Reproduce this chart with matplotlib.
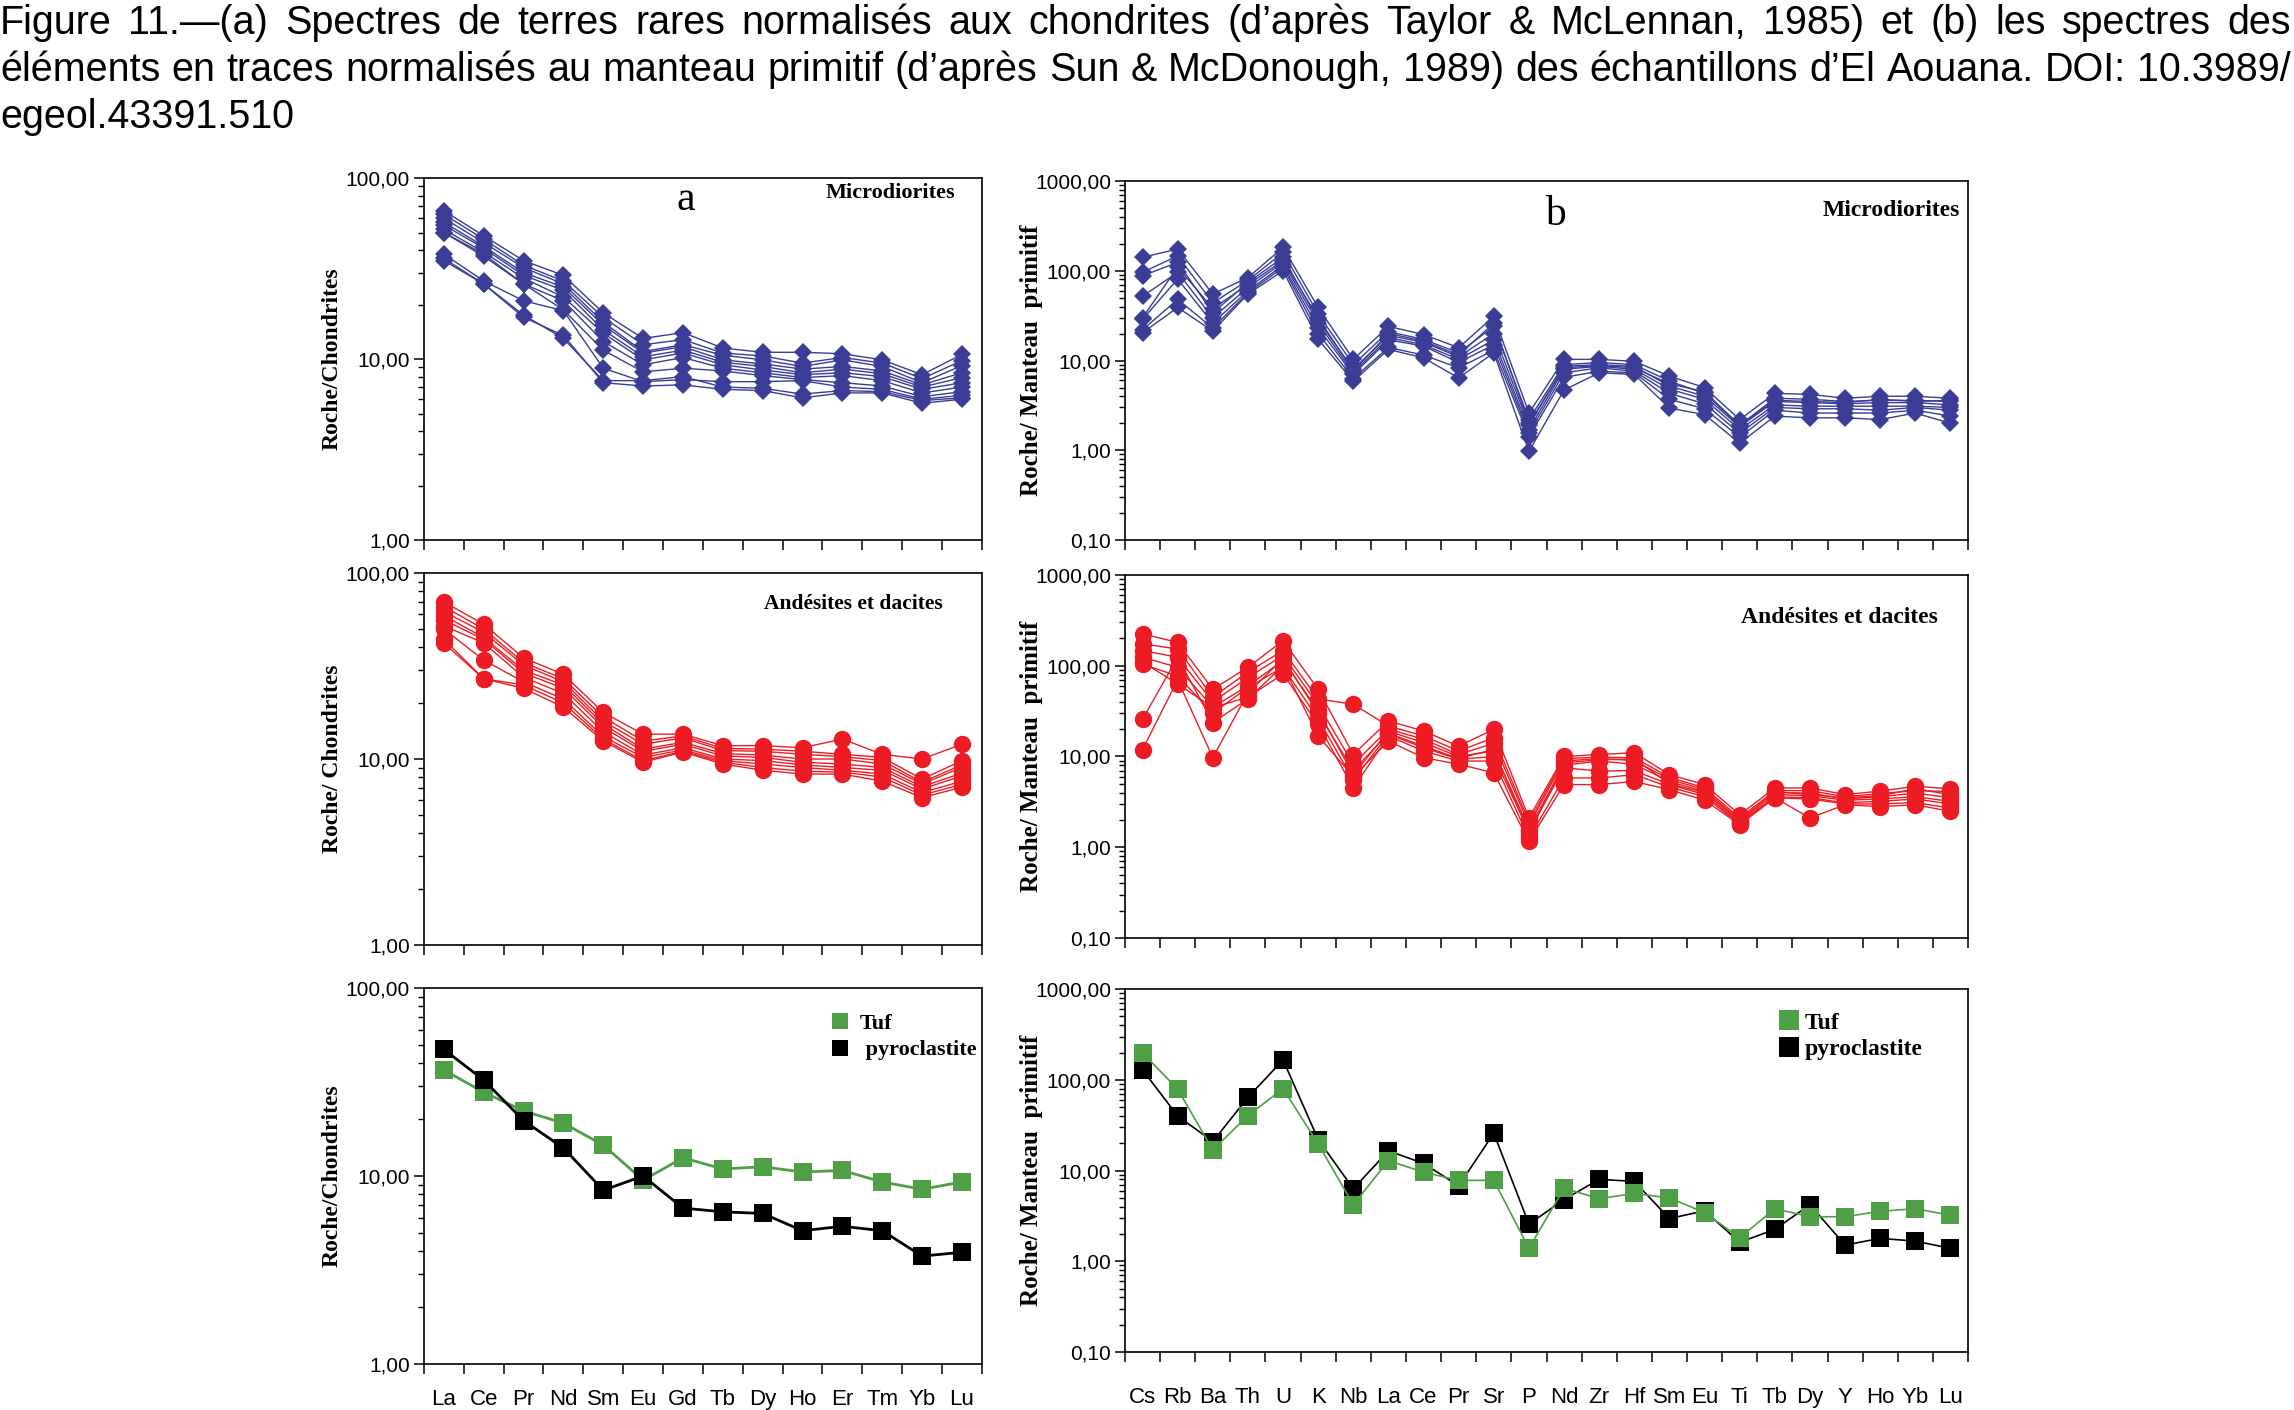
import matplotlib
matplotlib.use("Agg")
import matplotlib.pyplot as plt
from matplotlib import font_manager
from matplotlib.font_manager import FontProperties
from matplotlib.ticker import FixedLocator, FixedFormatter, FuncFormatter, LogLocator, NullFormatter
from matplotlib.lines import Line2D

SANS_N = ['Liberation Sans Narrow', 'Liberation Sans', 'DejaVu Sans']
SERIF = ['Liberation Serif', 'DejaVu Serif']
plt.rcParams['font.family'] = SANS_N

BLUE = '#3A3C96'
RED = '#ED1C24'
GREEN = '#4E9F45'
BLACK = '#000000'

# ---------- categories ----------
ree = ['La', 'Ce', 'Pr', 'Nd', 'Sm', 'Eu', 'Gd', 'Tb', 'Dy', 'Ho', 'Er', 'Tm', 'Yb', 'Lu']
trace = ['Cs', 'Rb', 'Ba', 'Th', 'U', 'K', 'Nb', 'La', 'Ce', 'Pr', 'Sr', 'P',
         'Nd', 'Zr', 'Hf', 'Sm', 'Eu', 'Ti', 'Tb', 'Dy', 'Y', 'Ho', 'Yb', 'Lu']

# ---------- (a) terres rares / chondrites ----------
micro_ree = [
    [66, 48, 35, 29, 18, 13, 14, 11.5, 10.9, 10.9, 10.7, 9.9, 8.2, 10.6],
    [63, 46, 33, 27, 17, 12, 12.8, 10.8, 10.4, 9.5, 10.2, 9.5, 7.8, 9.8],
    [60, 44, 32, 26, 16, 11, 12, 10.5, 9.9, 9.1, 9.9, 9.1, 7.4, 9.2],
    [57, 42, 30, 25, 15.4, 10.8, 11.7, 9.9, 9.4, 8.8, 9.1, 8.6, 7.2, 8.4],
    [55, 41, 29, 24, 14.5, 10.3, 11.2, 9.6, 9.1, 8.4, 8.8, 8.3, 7.0, 7.9],
    [52, 39, 28, 22, 13.9, 9.9, 10.8, 9.3, 8.7, 8.2, 8.4, 8.0, 6.8, 7.4],
    [50, 38, 26, 21, 12.5, 9.3, 10.2, 8.9, 8.4, 7.9, 8.1, 7.6, 6.5, 7.0],
    [50, 37, 26, 18.7, 11.2, 8.5, 8.9, 8.6, 8.1, 7.7, 7.4, 7.1, 6.2, 6.6],
    [38, 27, 21, 18.5, 8.9, 7.5, 7.7, 7.5, 7.5, 7.6, 7.0, 6.8, 6.0, 6.3],
    [36, 26, 17, 13.5, 7.4, 7.1, 7.2, 6.8, 6.7, 6.1, 6.5, 6.5, 5.7, 6.0],
    [35, 26, 17.5, 13.0, 7.6, 7.6, 8.0, 7.0, 6.9, 6.4, 6.7, 6.6, 5.9, 6.1],
]

ande_ree = [
    [70, 53, 35, 28.5, 17.8, 13.6, 13.6, 11.8, 11.8, 11.5, 12.8, 10.6, 10.0, 12.0],
    [66, 50, 33, 27, 16.8, 12.5, 13.3, 11.4, 11.3, 11.0, 10.6, 10.2, 7.8, 9.8],
    [62, 48, 32, 26, 16, 12, 13, 11.1, 11.0, 10.6, 10.3, 9.8, 7.5, 9.3],
    [59, 45, 30, 25, 15.4, 11.3, 12.3, 10.7, 10.5, 10.0, 10.0, 9.4, 7.35, 9.0],
    [56, 44, 29, 24, 14.8, 11.0, 12.0, 10.4, 10.2, 9.6, 9.4, 9.0, 7.1, 8.4],
    [52, 42, 27.5, 22.5, 14, 10.5, 11.5, 10.0, 9.8, 9.3, 9.0, 8.7, 6.9, 8.1],
    [50, 34, 26, 21, 13.2, 10.2, 11.2, 9.8, 9.4, 9.0, 8.7, 8.3, 6.6, 7.6],
    [44, 27, 25, 20, 12.8, 9.8, 11.0, 9.6, 9.0, 8.6, 8.5, 8.0, 6.4, 7.3],
    [42, 27, 24, 19, 12.5, 9.6, 10.9, 9.4, 8.7, 8.3, 8.3, 7.6, 6.2, 7.05],
]

tuf_ree = [36.6, 27.9, 22.2, 19.1, 14.6, 9.5, 12.5, 10.9, 11.2, 10.5, 10.7, 9.3, 8.5, 9.3]
pyro_ree = [47.1, 32.4, 19.7, 14.1, 8.4, 10.0, 6.75, 6.45, 6.32, 5.12, 5.4, 5.12, 3.75, 3.93]

# ---------- (b) traces / manteau primitif ----------
micro_trace = [
    [141, 175, 55, 84, 182, 39, 10.3, 24, 19.5, 13.9, 31, 2.6, 10.3, 10.3, 9.8, 6.7, 5.0, 2.2, 4.3, 4.2, 3.8, 4.0, 4.0, 3.8],
    [96, 147, 44, 78, 160, 33, 9.0, 21, 17.2, 12.2, 24, 2.2, 9.0, 9.5, 9.0, 5.9, 4.3, 1.9, 3.8, 3.7, 3.5, 3.6, 3.6, 3.5],
    [88, 124, 34, 74, 141, 28, 8.0, 19, 16, 11, 20, 1.9, 8.6, 9.0, 8.6, 5.2, 4.0, 1.84, 3.5, 3.4, 3.3, 3.4, 3.4, 3.2],
    [52, 96, 30, 65, 124, 26, 7.3, 18, 15, 10.3, 17, 1.7, 8.0, 8.6, 8.0, 4.8, 3.7, 1.7, 3.2, 3.1, 3.1, 3.1, 3.1, 3.0],
    [28.8, 81, 26, 60, 115, 23, 7.0, 17, 14.5, 9.5, 15, 1.55, 7.3, 8.3, 7.6, 4.3, 3.3, 1.55, 3.0, 2.9, 2.9, 2.8, 3.0, 2.8],
    [22, 48, 23, 57, 109, 20, 6.3, 14, 11.5, 8.3, 13, 1.42, 6.5, 7.6, 7.3, 3.7, 2.9, 1.4, 2.8, 2.6, 2.6, 2.6, 2.8, 2.4],
    [20.4, 39, 21.3, 55, 100, 17.2, 5.9, 13.3, 10.7, 6.4, 12.2, 0.97, 4.7, 7.3, 7.0, 2.95, 2.5, 1.2, 2.4, 2.3, 2.3, 2.2, 2.6, 2.0],
    [30, 110, 38, 70, 130, 30, 7.6, 20, 16.5, 11.5, 26, 2.0, 8.3, 8.8, 8.3, 5.5, 4.5, 1.9, 3.6, 3.5, 3.4, 3.7, 3.5, 3.6],
]

ande_trace = [
    [224, 181, 55, 96, 189, 55, 10.5, 24.6, 19.1, 13.0, 19.9, 2.1, 10.0, 10.5, 11.0, 6.3, 4.9, 2.28, 4.5, 4.5, 3.8, 4.15, 4.7, 4.4],
    [174, 153, 45, 85, 147, 43, 37.6, 21.7, 16.8, 11.5, 16.1, 1.9, 9.5, 9.8, 9.7, 5.9, 4.5, 2.1, 4.2, 4.2, 3.6, 3.9, 4.2, 4.1],
    [147, 124, 40, 74, 130, 37, 8.2, 20, 15.5, 10.5, 14, 1.77, 8.9, 9.5, 9.0, 5.6, 4.3, 2.0, 4.0, 3.95, 3.4, 3.6, 3.95, 3.5],
    [124, 96, 35, 60, 114, 32, 6.3, 19, 14.2, 10.0, 11.5, 1.6, 8.0, 8.9, 8.2, 5.3, 4.1, 1.9, 3.8, 3.7, 3.3, 3.4, 3.6, 3.2],
    [104, 77, 30, 57.5, 96, 26, 5.5, 17.5, 12.5, 9.3, 10, 1.49, 7.5, 6.9, 7.0, 4.9, 3.8, 1.85, 3.6, 3.5, 3.1, 3.2, 3.4, 3.0],
    [110, 63, 34.6, 45, 81, 22.6, 4.5, 16.8, 11.5, 8.9, 8.9, 1.26, 5.8, 5.8, 6.3, 4.6, 3.6, 1.8, 3.5, 3.4, 3.0, 3.0, 3.1, 2.7],
    [25.7, 124, 23.6, 43, 100, 16.8, 6.0, 14.8, 9.7, 8.2, 6.6, 1.16, 4.9, 4.9, 5.3, 4.3, 3.3, 1.77, 3.5, 2.1, 2.94, 2.8, 2.94, 2.48],
    [11.9, 70, 9.7, 50, 120, 30, 7.0, 18, 13, 9.5, 12, 1.4, 8.5, 9.2, 9.4, 5.0, 4.0, 1.95, 4.1, 3.8, 3.5, 3.7, 4.4, 3.8],
]

tuf_trace = [198, 79, 16.9, 40.3, 80, 19.7, 4.2, 12.9, 9.6, 7.8, 7.8, 1.39, 6.4, 4.9, 5.6, 5.0,
             3.45, 1.82, 3.8, 3.1, 3.1, 3.56, 3.8, 3.22]
pyro_trace = [129, 40, 20.9, 64, 166, 22, 6.3, 16.5, 12, 6.8, 25.8, 2.57, 4.8, 8.0, 7.6, 2.96,
              3.6, 1.62, 2.25, 4.2, 1.51, 1.79, 1.67, 1.39]

caption = [
    "Figure 11.\u2014(a) Spectres de terres rares normalisés aux chondrites (d\u2019après Taylor & McLennan, 1985) et (b) les spectres des",
    "éléments en traces normalisés au manteau primitif (d\u2019après Sun & McDonough, 1989) des échantillons d\u2019El Aouana. DOI: 10.3989/",
    "egeol.43391.510",
]


def narrow_font():
    """look for a narrow sans face (caption is set in Arial Narrow)"""
    for f in font_manager.fontManager.ttflist:
        if f.name == 'Liberation Sans Narrow' and f.weight in (400, 'normal') and f.style == 'normal':
            return FontProperties(fname=f.fname)
    for f in font_manager.fontManager.ttflist:
        if f.name.startswith('Noto Sans') and 'CJK' not in f.name and f.style == 'normal' \
                and f.weight in (400, 'normal') and f.stretch in ('condensed', 'semi-condensed', 'extra-condensed'):
            return FontProperties(fname=f.fname)
    return FontProperties(family='Liberation Sans')


CAP = narrow_font()


def decimal_comma(v, pos):
    return f"{v:.2f}".replace('.', ',')


def setup_axes(ax, cats, ymin, ymax, ylabel, label_x, show_x, lab_size, xpad):
    n = len(cats)
    ax.set_yscale('log')
    ax.set_ylim(ymin, ymax)
    ax.set_xlim(-0.5, n - 0.5)
    # ticks between categories, labels centred (Excel style)
    ax.xaxis.set_major_locator(FixedLocator([i - 0.5 for i in range(n + 1)]))
    ax.xaxis.set_major_formatter(NullFormatter())
    ax.xaxis.set_minor_locator(FixedLocator(list(range(n))))
    if show_x:
        ax.xaxis.set_minor_formatter(FixedFormatter(cats))
    else:
        ax.xaxis.set_minor_formatter(NullFormatter())
    ax.tick_params(axis='x', which='major', direction='out', length=7, width=1.1)
    ax.tick_params(axis='x', which='minor', length=0, pad=xpad, labelsize=16)
    ax.yaxis.set_major_locator(LogLocator(base=10))
    ax.yaxis.set_minor_locator(LogLocator(base=10, subs=range(2, 10)))
    ax.yaxis.set_major_formatter(FuncFormatter(decimal_comma))
    ax.yaxis.set_minor_formatter(NullFormatter())
    ax.tick_params(axis='y', which='major', direction='out', length=7, width=1.1, labelsize=15, pad=3)
    ax.tick_params(axis='y', which='minor', direction='out', length=4, width=1.0)
    for s in ax.spines.values():
        s.set_linewidth(1.2)
    ax.set_ylabel(ylabel, family=SERIF, fontweight='bold', fontsize=lab_size)
    ax.yaxis.set_label_coords(label_x, 0.5)


def draw_series(ax, rows, color, marker, ms, lw=1.0):
    for row in rows:
        ax.plot(range(len(row)), row, color=color, lw=lw, marker=marker, ms=ms,
                markeredgewidth=0)


def justify(fig, text, y_px, size):
    """place words so that the line fills the full figure width"""
    W, H = fig.get_size_inches() * fig.dpi
    words = text.split(' ')
    r = fig.canvas.get_renderer()
    objs = [fig.text(0, 1 - y_px / H, w, fontproperties=CAP, fontsize=size,
                     va='baseline', ha='left') for w in words]
    widths = [o.get_window_extent(r).width for o in objs]
    gap = (W - 3 - sum(widths)) / (len(words) - 1)
    x = 0
    for o, w in zip(objs, widths):
        o.set_x(x / W)
        x += w + gap


fig = plt.figure(figsize=(22.94, 14.10), dpi=100)

# axes rectangles (figure fraction)
ax_a1 = fig.add_axes([0.1848, 0.617, 0.2432, 0.2567])
ax_a2 = fig.add_axes([0.1848, 0.3298, 0.2432, 0.2638])
ax_a3 = fig.add_axes([0.1848, 0.0326, 0.2432, 0.2667])
ax_b1 = fig.add_axes([0.4904, 0.617, 0.3675, 0.2546])
ax_b2 = fig.add_axes([0.4904, 0.3348, 0.3675, 0.2574])
ax_b3 = fig.add_axes([0.4904, 0.0411, 0.3675, 0.2574])

setup_axes(ax_a1, ree, 1, 100, 'Roche/Chondrites', -0.145, False, 17, 18)
setup_axes(ax_a2, ree, 1, 100, 'Roche/ Chondrites', -0.145, False, 17, 18)
setup_axes(ax_a3, ree, 1, 100, 'Roche/Chondrites', -0.145, True, 17, 18)
setup_axes(ax_b1, trace, 0.1, 1000, 'Roche/ Manteau  primitif', -0.097, False, 18, 25)
setup_axes(ax_b2, trace, 0.1, 1000, 'Roche/ Manteau  primitif', -0.097, False, 18, 25)
setup_axes(ax_b3, trace, 0.1, 1000, 'Roche/ Manteau  primitif', -0.097, True, 18, 25)

# --- microdiorites
draw_series(ax_a1, micro_ree, BLUE, 'D', 9.5)
draw_series(ax_b1, micro_trace, BLUE, 'D', 9.5)
ax_a1.text(0.47, 0.94, 'a', transform=ax_a1.transAxes, family=SERIF, fontsize=30,
           ha='center', va='center')
ax_a1.text(0.953, 0.96, 'Microdiorites', transform=ax_a1.transAxes, family=SERIF,
           fontweight='bold', fontsize=16, ha='right', va='center')
ax_b1.text(0.51, 0.905, 'b', transform=ax_b1.transAxes, family=SERIF, fontsize=30,
           ha='center', va='center')
ax_b1.text(0.991, 0.918, 'Microdiorites', transform=ax_b1.transAxes, family=SERIF,
           fontweight='bold', fontsize=17, ha='right', va='center')

# --- andesites et dacites
draw_series(ax_a2, ande_ree, RED, 'o', 12.5)
draw_series(ax_b2, ande_trace, RED, 'o', 12.5)
ax_a2.text(0.93, 0.917, 'Andésites et dacites', transform=ax_a2.transAxes, family=SERIF,
           fontweight='bold', fontsize=15.5, ha='right', va='center')
ax_b2.text(0.964, 0.883, 'Andésites et dacites', transform=ax_b2.transAxes, family=SERIF,
           fontweight='bold', fontsize=17, ha='right', va='center')

# --- tuf / pyroclastite
ax_a3.plot(range(len(ree)), tuf_ree, color=GREEN, lw=2, marker='s', ms=13, mew=0, zorder=2)
ax_a3.plot(range(len(ree)), pyro_ree, color=BLACK, lw=2, marker='s', ms=13, mew=0, zorder=3)
ax_b3.plot(range(len(trace)), pyro_trace, color=BLACK, lw=1.2, marker='s', ms=13.5, mew=0, zorder=2)
ax_b3.plot(range(len(trace)), tuf_trace, color=GREEN, lw=1.2, marker='s', ms=13.5, mew=0, zorder=3)

handles_a = [Line2D([], [], color=GREEN, marker='s', ls='none', ms=12, mew=0),
             Line2D([], [], color=BLACK, marker='s', ls='none', ms=12, mew=0)]
handles_b = [Line2D([], [], color=GREEN, marker='s', ls='none', ms=14, mew=0),
             Line2D([], [], color=BLACK, marker='s', ls='none', ms=14, mew=0)]
ax_a3.legend(handles_a, ['Tuf', ' pyroclastite'], loc='upper left', bbox_to_anchor=(0.69, 0.985),
             frameon=False, handletextpad=0.4, labelspacing=0.25, handlelength=1.0,
             prop=dict(family=SERIF, weight='bold', size=16))
ax_b3.legend(handles_b, ['Tuf', 'pyroclastite'], loc='upper left', bbox_to_anchor=(0.748, 0.995),
             frameon=False, handletextpad=0.2, labelspacing=0.2, handlelength=1.0,
             prop=dict(family=SERIF, weight='bold', size=17))

# --- caption (justified like the source); size chosen so line 2 fits with normal spacing
probe = fig.text(0, 0, caption[1], fontproperties=CAP, fontsize=30)
w2 = probe.get_window_extent(fig.canvas.get_renderer()).width
probe.remove()
cap_size = min(34, 30 * 2285 / w2)
justify(fig, caption[0], 34, cap_size)
justify(fig, caption[1], 81, cap_size)
fig.text(0, 1 - 128 / 1410, caption[2], fontproperties=CAP, fontsize=cap_size,
         va='baseline', ha='left')

fig.savefig('out.png', dpi=100)
